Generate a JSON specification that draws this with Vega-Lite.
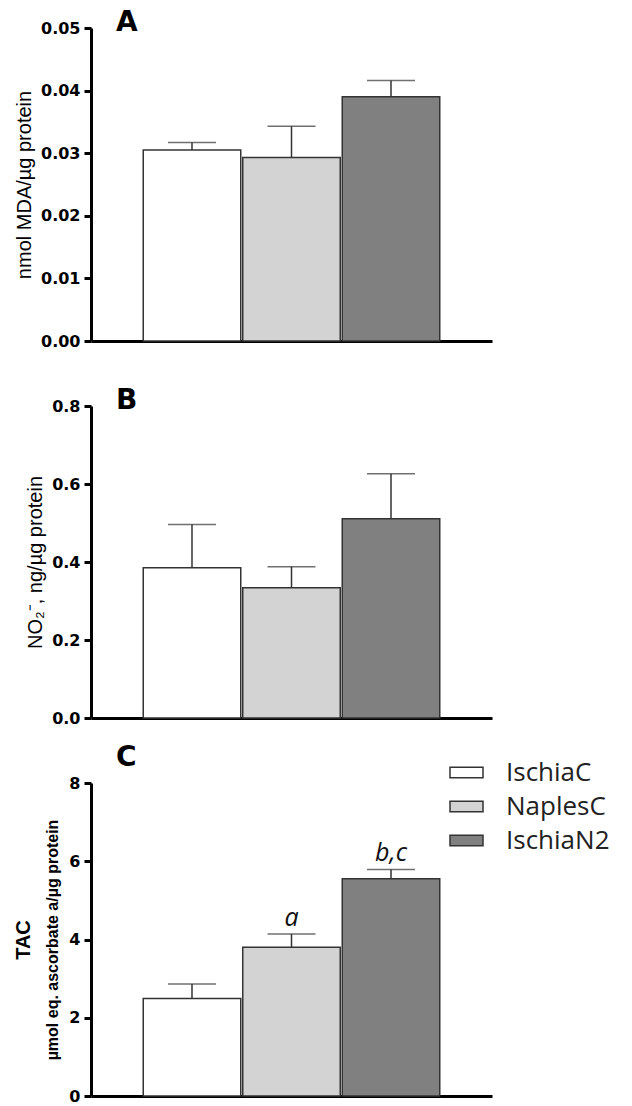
{
  "$schema": "https://vega.github.io/schema/vega-lite/v6.json",
  "padding": {"left": 13, "top": 9, "right": 0, "bottom": 0},
  "background": "white",
  "spacing": 65,
  "bounds": "flush",
  "datasets": {
    "mda": [
      {"group": "IschiaC", "mean": 0.0305, "upper": 0.0317},
      {"group": "NaplesC", "mean": 0.0293, "upper": 0.0343},
      {"group": "IschiaN2", "mean": 0.0390, "upper": 0.0416}
    ],
    "no2": [
      {"group": "IschiaC", "mean": 0.385, "upper": 0.496},
      {"group": "NaplesC", "mean": 0.334, "upper": 0.388},
      {"group": "IschiaN2", "mean": 0.511, "upper": 0.626}
    ],
    "tac": [
      {"group": "IschiaC", "mean": 2.49, "upper": 2.86, "sig": ""},
      {"group": "NaplesC", "mean": 3.80, "upper": 4.14, "sig": "a"},
      {"group": "IschiaN2", "mean": 5.55, "upper": 5.79, "sig": "b,c"}
    ]
  },
  "config": {
    "view": {"stroke": null},
    "axis": {
      "grid": false,
      "domainColor": "black",
      "domainWidth": 3,
      "tickColor": "black",
      "tickWidth": 3,
      "tickSize": 7,
      "labelFont": "DejaVu Sans",
      "labelFontWeight": "bold",
      "labelFontSize": 16,
      "labelColor": "black",
      "labelPadding": 4,
      "titleColor": "black"
    },
    "title": {
      "anchor": "start",
      "frame": "group",
      "dx": 25,
      "dy": 21,
      "offset": 0,
      "baseline": "alphabetic",
      "font": "DejaVu Sans",
      "fontWeight": "bold",
      "fontSize": 28,
      "color": "black"
    }
  },
  "resolve": {
    "scale": {"x": "independent", "y": "independent", "color": "independent"},
    "legend": {"color": "independent"}
  },
  "vconcat": [
    {
      "width": 401,
      "height": 313,
      "title": "A",
      "data": {"name": "mda"},
      "encoding": {
        "x": {"field": "group", "type": "nominal", "sort": ["IschiaC", "NaplesC", "IschiaN2"],
              "scale": {"paddingInner": 0.02, "paddingOuter": 0.525},
              "axis": {"labels": false, "ticks": false, "title": null}}
      },
      "resolve": {"axis": {"y": "independent"}},
      "layer": [
        {
          "mark": {"type": "bar", "stroke": "#333333", "strokeWidth": 1.5},
          "encoding": {
            "y": {"field": "mean", "type": "quantitative",
                  "scale": {"domain": [0, 0.05], "nice": false},
                  "axis": {"values": [0, 0.01, 0.02, 0.03, 0.04, 0.05], "format": ".2f",
                           "title": "nmol MDA/µg protein", "titleFont": "Liberation Sans",
                           "titleFontWeight": "normal", "titleFontSize": 20, "titlePadding": 6}},
            "color": {"field": "group", "type": "nominal",
                      "scale": {"domain": ["IschiaC", "NaplesC", "IschiaN2"], "range": ["#ffffff", "#d3d3d3", "#808080"]},
                      "legend": null}
          }
        },
        {
          "mark": {"type": "rule", "stroke": "#333333", "strokeWidth": 1.5},
          "encoding": {"y": {"field": "mean", "type": "quantitative", "axis": null}, "y2": {"field": "upper"}}
        },
        {
          "mark": {"type": "tick", "color": "#333333", "thickness": 1.5, "size": 48, "orient": "horizontal"},
          "encoding": {"y": {"field": "upper", "type": "quantitative", "axis": null}}
        }
      ]
    },
    {
      "width": 401,
      "height": 312,
      "title": "B",
      "data": {"name": "no2"},
      "encoding": {
        "x": {"field": "group", "type": "nominal", "sort": ["IschiaC", "NaplesC", "IschiaN2"],
              "scale": {"paddingInner": 0.02, "paddingOuter": 0.525},
              "axis": {"labels": false, "ticks": false, "title": null}}
      },
      "resolve": {"axis": {"y": "independent"}},
      "layer": [
        {
          "mark": {"type": "bar", "stroke": "#333333", "strokeWidth": 1.5},
          "encoding": {
            "y": {"field": "mean", "type": "quantitative",
                  "scale": {"domain": [0, 0.8], "nice": false},
                  "axis": {"values": [0, 0.2, 0.4, 0.6, 0.8], "format": ".1f",
                           "title": "NO₂⁻, ng/µg protein", "titleFont": "Liberation Sans",
                           "titleFontWeight": "normal", "titleFontSize": 20, "titlePadding": 6}},
            "color": {"field": "group", "type": "nominal",
                      "scale": {"domain": ["IschiaC", "NaplesC", "IschiaN2"], "range": ["#ffffff", "#d3d3d3", "#808080"]},
                      "legend": null}
          }
        },
        {
          "mark": {"type": "rule", "stroke": "#333333", "strokeWidth": 1.5},
          "encoding": {"y": {"field": "mean", "type": "quantitative", "axis": null}, "y2": {"field": "upper"}}
        },
        {
          "mark": {"type": "tick", "color": "#333333", "thickness": 1.5, "size": 48, "orient": "horizontal"},
          "encoding": {"y": {"field": "upper", "type": "quantitative", "axis": null}}
        }
      ]
    },
    {
      "width": 401,
      "height": 313,
      "title": "C",
      "data": {"name": "tac"},
      "encoding": {
        "x": {"field": "group", "type": "nominal", "sort": ["IschiaC", "NaplesC", "IschiaN2"],
              "scale": {"paddingInner": 0.02, "paddingOuter": 0.525},
              "axis": {"labels": false, "ticks": false, "title": null}}
      },
      "resolve": {"axis": {"y": "independent"}},
      "layer": [
        {
          "mark": {"type": "bar", "stroke": "#333333", "strokeWidth": 1.5},
          "encoding": {
            "y": {"field": "mean", "type": "quantitative",
                  "scale": {"domain": [0, 8], "nice": false},
                  "axis": {"values": [0, 2, 4, 6, 8], "format": "d",
                           "title": "µmol eq. ascorbate a/µg protein", "titleFont": "Liberation Sans",
                           "titleFontWeight": "bold", "titleFontSize": 16, "titlePadding": 8}},
            "color": {"field": "group", "type": "nominal",
                      "scale": {"domain": ["IschiaC", "NaplesC", "IschiaN2"], "range": ["#ffffff", "#d3d3d3", "#808080"]},
                      "legend": {"orient": "none", "legendX": 358, "legendY": -28, "title": null,
                                 "symbolType": "M-1,-0.32H1V0.32H-1Z", "symbolSize": 1089,
                                 "symbolStrokeColor": "#333333", "symbolStrokeWidth": 1.5,
                                 "labelFont": "Open Sans", "labelFontSize": 26, "labelColor": "#222222",
                                 "labelOffset": 22, "rowPadding": 3, "padding": 0}}
          }
        },
        {
          "mark": {"type": "rule", "stroke": "#333333", "strokeWidth": 1.5},
          "encoding": {"y": {"field": "mean", "type": "quantitative", "axis": null}, "y2": {"field": "upper"}}
        },
        {
          "mark": {"type": "tick", "color": "#333333", "thickness": 1.5, "size": 48, "orient": "horizontal"},
          "encoding": {"y": {"field": "upper", "type": "quantitative", "axis": null}}
        },
        {
          "mark": {"type": "text", "font": "Open Sans", "fontStyle": "italic", "fontSize": 25, "dy": -8, "baseline": "alphabetic", "color": "#111111"},
          "encoding": {
            "y": {"field": "upper", "type": "quantitative",
                  "axis": {"orient": "left", "labels": false, "ticks": false, "domain": false,
                           "title": "TAC", "titleFont": "Liberation Sans", "titleFontWeight": "bold",
                           "titleFontSize": 20, "titlePadding": 58}},
            "text": {"field": "sig"}
          }
        }
      ]
    }
  ]
}
